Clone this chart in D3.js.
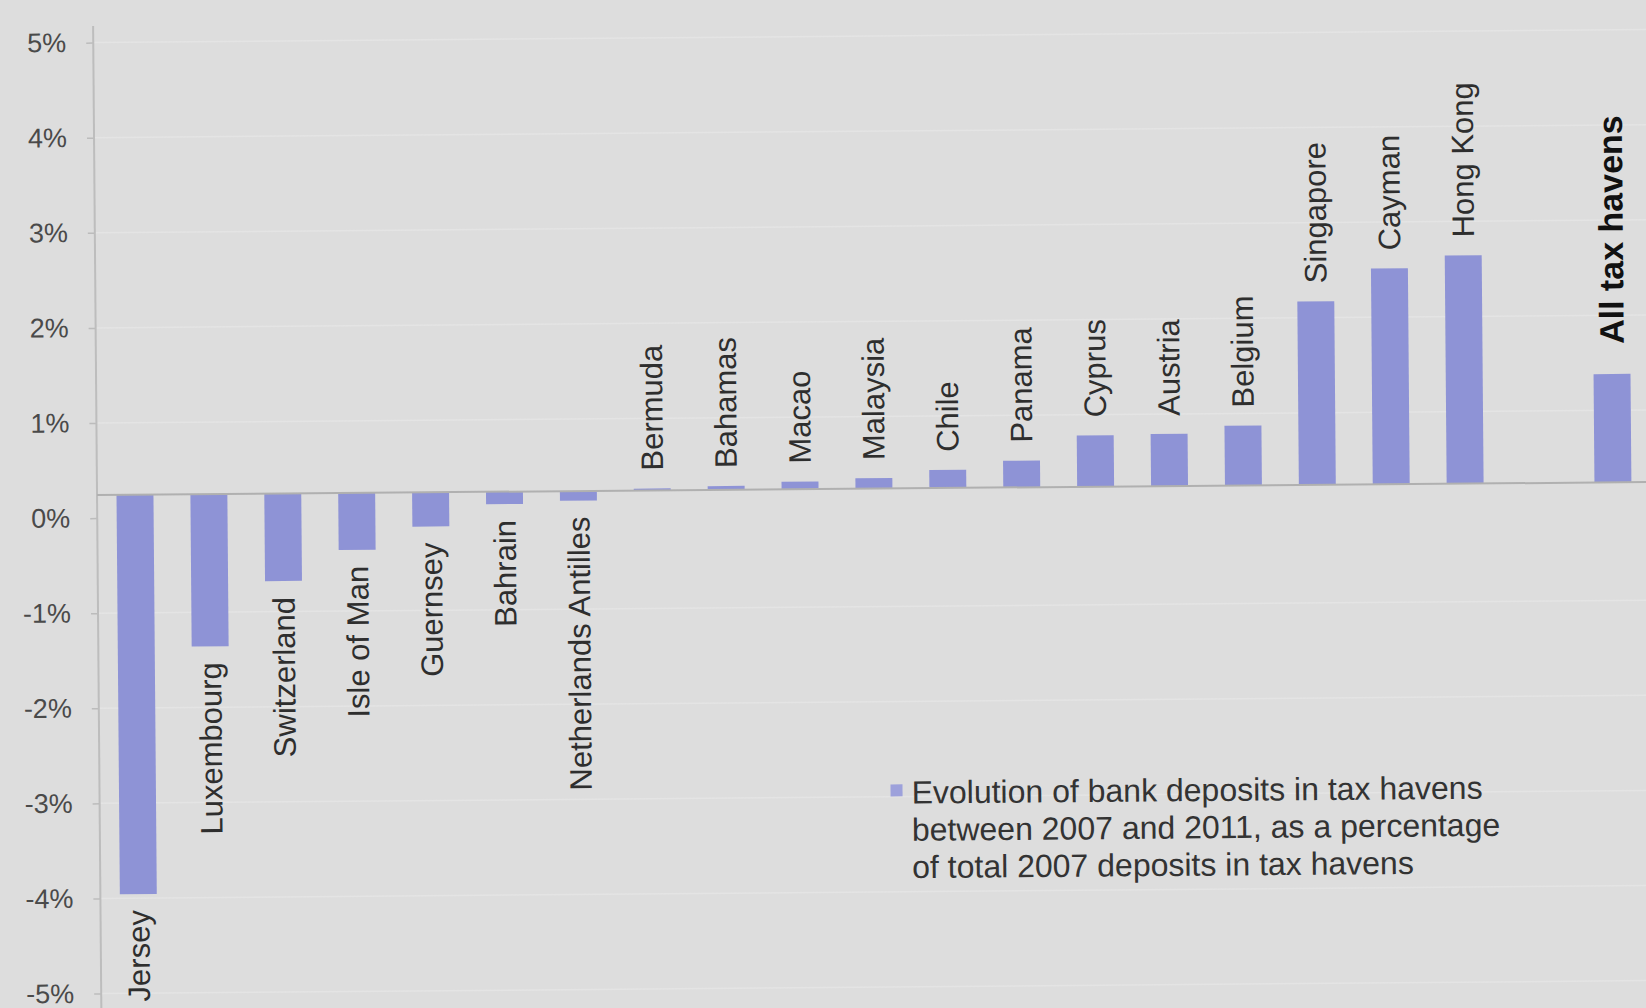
<!DOCTYPE html>
<html>
<head>
<meta charset="utf-8">
<script src="https://cdn.jsdelivr.net/npm/d3@7"></script>
<style>
  html, body { margin: 0; padding: 0; background: #dddddd; overflow: hidden; }
  svg { display: block; }
</style>
</head>
<body>
<div id="chart"></div>
<script>
    "use strict";

    // Data (percent of total 2007 deposits)
    var categories = [
        "Jersey", "Luxembourg", "Switzerland", "Isle of Man", "Guernsey", "Bahrain",
        "Netherlands Antilles", "Bermuda", "Bahamas", "Macao", "Malaysia", "Chile",
        "Panama", "Cyprus", "Austria", "Belgium", "Singapore", "Cayman", "Hong Kong",
        "", "All tax havens"
    ];
    var values = [
        -4.2, -1.6, -0.92, -0.6, -0.36, -0.13,
        -0.1, 0.02, 0.04, 0.08, 0.11, 0.19,
        0.28, 0.54, 0.55, 0.63, 1.93, 2.27, 2.4,
        null, 1.14
    ];
    var yTicks = [5, 4, 3, 2, 1, 0, -1, -2, -3, -4, -5];
    var legendLines = [
        "Evolution of bank deposits in tax havens",
        "between 2007 and 2011, as a percentage",
        "of total 2007 deposits in tax havens"
    ];

    var width = 1646, height = 1008;
    var axisX = 97;
    var barColor = "#8e93d6";
    var font = "'Liberation Sans', Arial, sans-serif";

    var svg = d3.select("#chart")
        .append("svg")
        .attr("width", width)
        .attr("height", height);

    svg.append("rect")
        .attr("width", width)
        .attr("height", height)
        .attr("fill", "#dddddd");

    // the source is a slightly tilted photo
    var g = svg.append("g")
        .attr("transform", "rotate(-0.48, 823, 489)");

    var y = d3.scaleLinear()
        .domain([-5, 5])
        .range([489 + 5 * 95.1, 489 - 5 * 95.1]);

    var x = d3.scaleBand()
        .domain(d3.range(categories.length))
        .range([axisX + 1, axisX + 1 + 21 * 73.9])
        .paddingInner(0.5)
        .paddingOuter(0.25);

    // faint gridlines (tick labels sit a little below the bar baseline)
    var tickOffset = 23;
    g.append("g")
        .selectAll("line")
        .data(yTicks.filter(function (d) { return d !== 0; }))
        .enter()
        .append("line")
        .attr("x1", axisX)
        .attr("x2", width + 20)
        .attr("y1", function (d) { return y(d) + tickOffset; })
        .attr("y2", function (d) { return y(d) + tickOffset; })
        .style("stroke", "#e4e4e4")
        .style("stroke-width", 1.5);

    // y axis
    var yAxis = d3.axisLeft(y)
        .tickValues(yTicks)
        .tickFormat(function (d) { return d + "%"; })
        .tickSize(7)
        .tickPadding(20);

    var ax = g.append("g")
        .attr("transform", "translate(" + axisX + "," + tickOffset + ")")
        .call(yAxis);
    ax.select(".domain").remove();
    ax.selectAll(".tick line").style("stroke", "#bcbcbc").style("stroke-width", 1.5);
    ax.selectAll(".tick text")
        .style("font-family", font)
        .style("font-size", "27px")
        .style("fill", "#4a4a4a");

    g.append("line")
        .attr("x1", axisX).attr("x2", axisX)
        .attr("y1", 20).attr("y2", 1005)
        .style("stroke", "#bdbdbd")
        .style("stroke-width", 2);

    // bars
    var data = categories.map(function (c, i) { return { name: c, value: values[i], i: i }; })
        .filter(function (d) { return d.value !== null; });

    g.append("g")
        .selectAll("rect")
        .data(data)
        .enter()
        .append("rect")
        .attr("x", function (d) { return x(d.i); })
        .attr("width", x.bandwidth())
        .attr("y", function (d) { return y(Math.max(0, d.value)); })
        .attr("height", function (d) { return Math.abs(y(d.value) - y(0)); })
        .style("fill", barColor);

    // zero line
    g.append("line")
        .attr("x1", axisX).attr("x2", width + 20)
        .attr("y1", y(0)).attr("y2", y(0))
        .style("stroke", "#b0b0b0")
        .style("stroke-width", 2);

    // category labels
    g.append("g")
        .selectAll("text")
        .data(data)
        .enter()
        .append("text")
        .attr("transform", function (d) {
            var cx = x(d.i) + x.bandwidth() / 2;
            var total = d.name === "All tax havens";
            var ly = d.value >= 0 ? y(d.value) - (total ? 30 : 18) : y(d.value) + 16;
            return "translate(" + cx + "," + ly + ") rotate(-90)";
        })
        .attr("dy", "0.35em")
        .attr("text-anchor", function (d) { return d.value >= 0 ? "start" : "end"; })
        .style("font-family", font)
        .style("font-size", function (d) { return d.name === "All tax havens" ? "34px" : "31px"; })
        .style("font-weight", function (d) { return d.name === "All tax havens" ? "bold" : "normal"; })
        .style("fill", function (d) { return d.name === "All tax havens" ? "#111" : "#2e2e2e"; })
        .text(function (d) { return d.name; });

    // legend
    var legend = g.append("g").attr("transform", "translate(888,785)");
    legend.append("rect")
        .attr("width", 12)
        .attr("height", 12)
        .style("fill", "#9da1db");
    legend.selectAll("text")
        .data(legendLines)
        .enter()
        .append("text")
        .attr("x", 21)
        .attr("y", function (d, i) { return 8 + i * 37.3; })
        .attr("dy", "0.35em")
        .style("font-family", font)
        .style("font-size", "32px")
        .style("fill", "#333")
        .text(function (d) { return d; });
</script>
</body>
</html>
